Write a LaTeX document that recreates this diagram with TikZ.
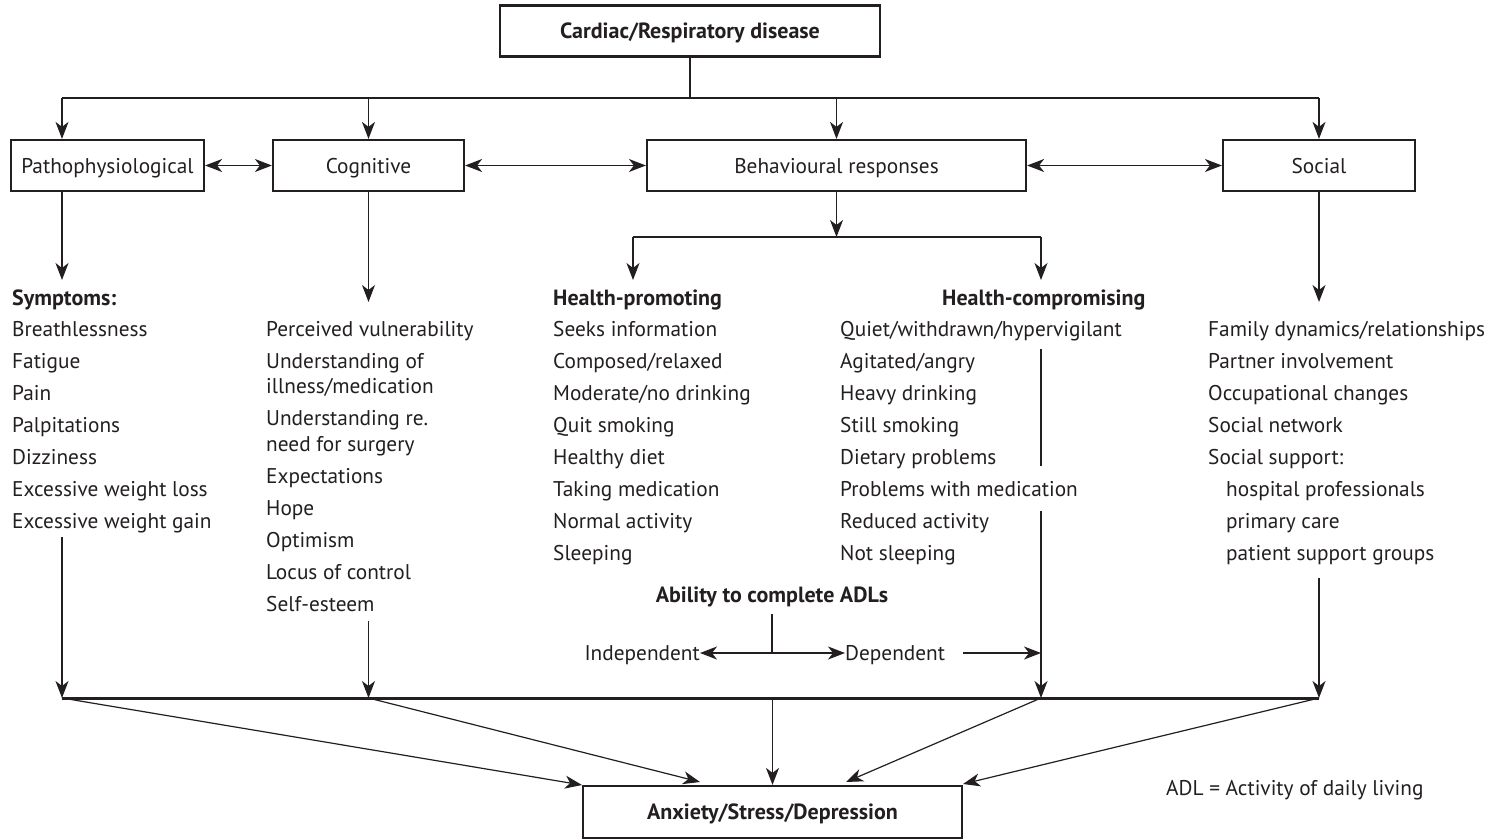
\documentclass[tikz,border=0pt]{standalone}
\usepackage{fontspec}
\setmainfont{PT Sans}
\usetikzlibrary{arrows.meta}
\definecolor{ink}{HTML}{231F20}
\newcommand{\fsz}{\fontsize{21.3}{24}\selectfont}
\newcommand{\fszb}{\fontsize{22}{25}\selectfont\bfseries}
\begin{document}
\begin{tikzpicture}[x=1pt,y=-1pt,
  box/.style={draw=ink, line width=2.2pt, minimum height=51pt, inner sep=0pt, text height=17pt, text depth=2pt, font=\fsz, text=ink},
  bbox/.style={box, font=\fszb},
  txt/.style={anchor=base west, inner sep=0pt, font=\fsz, text=ink},
  btxt/.style={txt, font=\fszb},
  ln/.style={draw=ink, line width=1.2pt},
  arr/.style={ln, -{Stealth[length=17pt,width=13pt,inset=5pt]}},
  darr/.style={ln, {Stealth[length=17pt,width=13pt,inset=5pt]}-{Stealth[length=17pt,width=13pt,inset=5pt]}}]
\useasboundingbox (0,0) rectangle (1504,840);
\fill[white] (0,0) rectangle (1504,840);
% boxes
\node[bbox, minimum width=380pt] (top) at (690,31) {Cardiac/Respiratory disease};
\node[box, minimum width=193pt] (patho) at (107.5,165.5) {Pathophysiological};
\node[box, minimum width=191pt] (cog) at (368.5,165.5) {Cognitive};
\node[box, minimum width=379pt] (beh) at (836.5,165.5) {Behavioural responses};
\node[box, minimum width=192pt] (soc) at (1319,165.5) {Social};
\node[bbox, minimum width=379pt, minimum height=52pt] (anx) at (772.5,812) {Anxiety/Stress/Depression};
% top distribution
\coordinate (hL) at (62,98);
\coordinate (hR) at (1319,98);
\draw[ln] (top.south) -- (top.south |- hL);
\draw[ln] (hL) -- (hR);
\draw[arr] (hL) -- (hL |- patho.north);
\draw[arr] (cog.north |- hL) -- (cog.north);
\draw[arr] (beh.north |- hL) -- (beh.north);
\draw[arr] (hR) -- (soc.north);
% double arrows
\draw[darr] (patho.east) -- (cog.west);
\draw[darr] (cog.east) -- (beh.west);
\draw[darr] (beh.east) -- (soc.west);
% behavioural split
\coordinate (bL) at (633,237);
\coordinate (bR) at (1041,237);
\draw[arr] (beh.south) -- (beh.south |- bL);
\draw[ln] (bL) -- (bR);
\coordinate (hpTip) at (633,280);
\coordinate (hcTip) at (1041,280);
\draw[arr] (bL) -- (hpTip);
\draw[arr] (bR) -- (hcTip);
% down arrows from boxes
\coordinate (symTip) at (62,280);
\coordinate (cogTip) at (368.5,302);
\coordinate (socTip) at (1319,302);
\draw[arr] (hL |- patho.south) -- (symTip);
\draw[arr] (cog.south) -- (cogTip);
\draw[arr] (soc.south) -- (socTip);
% Symptoms column
\node[btxt] (sym) at (12,305) {Symptoms:};
\foreach \t [count=\i] in {Breathlessness, Fatigue, Pain, Palpitations, Dizziness, Excessive weight loss, Excessive weight gain}
  \node[txt] (s\i) at (12,{304+32*\i}) {\t};
% Cognitive column
\node[txt] (c1) at (266,336) {Perceived vulnerability};
\node[txt] (c2) at (266,368) {Understanding of};
\node[txt] (c3) at (266,393) {illness/medication};
\node[txt] (c4) at (266,425) {Understanding re.};
\node[txt] (c5) at (266,451) {need for surgery};
\node[txt] (c6) at (266,483) {Expectations};
\node[txt] (c7) at (266,515) {Hope};
\node[txt] (c8) at (266,547) {Optimism};
\node[txt] (c9) at (266,579) {Locus of control};
\node[txt] (c10) at (266,611) {Self-esteem};
% Health-promoting
\node[btxt] (hp) at (553,305) {Health-promoting};
\foreach \t [count=\i] in {Seeks information, Composed/relaxed, Moderate/no drinking, Quit smoking, Healthy diet, Taking medication, Normal activity, Sleeping}
  \node[txt] (p\i) at (553,{304+32*\i}) {\t};
% Health-compromising
\node[btxt] (hc) at (942,305) {Health-compromising};
\foreach \t [count=\i] in {Quiet/withdrawn/hypervigilant, Agitated/angry, Heavy drinking, Still smoking, Dietary problems, Problems with medication, Reduced activity, Not sleeping}
  \node[txt] (q\i) at (840,{304+32*\i}) {\t};
% Social
\foreach \t [count=\i] in {Family dynamics/relationships, Partner involvement, Occupational changes, Social network, Social support:}
  \node[txt] (o\i) at (1208,{304+32*\i}) {\t};
\foreach \t [count=\i from 6] in {hospital professionals, primary care, patient support groups}
  \node[txt] (o\i) at (1226,{304+32*\i}) {\t};
% ADL
\node[btxt, anchor=base] (adl) at (772,602) {Ability to complete ADLs};
\coordinate (adlTop) at (772,614);
\coordinate (adlMid) at (772,653);
\node[txt, anchor=base east] (indep) at (700,660) {Independent};
\node[txt] (dep) at (845,660) {Dependent};
\draw[ln] (adlTop) -- (adlMid);
\draw[arr] (adlMid) -- (indep.east |- adlMid);
\draw[arr] (adlMid) -- (dep.west |- adlMid);
% health-compromising vertical line
\coordinate (v1a) at (1041,349);
\coordinate (v1b) at (1041,466);
\coordinate (v2a) at (1041,511);
\coordinate (bot) at (62,698);
\coordinate (botR) at (1319,698);
\draw[ln] (v1a) -- (v1b);
\draw[arr] (v2a) -- (v2a |- bot);
\coordinate (depA) at (963,653);
\draw[arr] (depA) -- (v2a |- depA);
% arrows into bottom line
\coordinate (symB) at (62,537);
\coordinate (cogB) at (368.5,621);
\coordinate (socB) at (1319,578);
\draw[arr] (symB) -- (bot);
\draw[arr] (cogB) -- (cogB |- bot);
\draw[arr] (socB) -- (botR);
\draw[draw=ink, line width=3pt] (bot) -- (botR);
% to anxiety
\coordinate (t1) at (582,785);
\coordinate (t2) at (700,782);
\coordinate (t4) at (846,782);
\coordinate (t5) at (963,784);
\draw[arr] (bot) -- (t1);
\draw[arr] (cogB |- bot) -- (t2);
\draw[arr] (anx.north |- bot) -- (anx.north);
\draw[arr] (v2a |- bot) -- (t4);
\draw[arr] (botR) -- (t5);
\node[txt] (note) at (1166,795) {ADL = Activity of daily living};
\end{tikzpicture}
\end{document}
